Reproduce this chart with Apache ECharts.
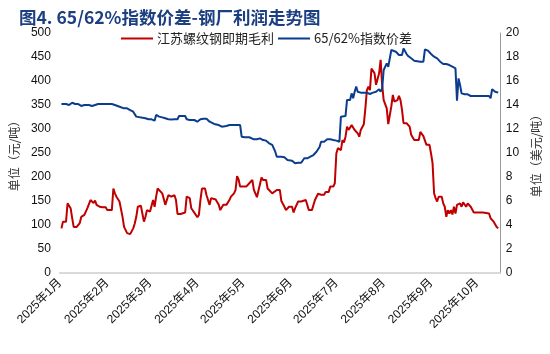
<!DOCTYPE html>
<html>
<head>
<meta charset="utf-8">
<script src="https://cdn.jsdelivr.net/npm/echarts@6/dist/echarts.min.js"></script>
<style>
  html, body { margin: 0; padding: 0; background: #fff; }
  #main { width: 550px; height: 354px; }
</style>
</head>
<body>
<div id="main"></div>
<script>
// 2025 dates (MM-DD) and values
var year = 2025;
var monthStarts = ['01-01','02-01','03-01','04-01','05-01','06-01','07-01','08-01','09-01','10-01'];
var monthLabels = ['2025年1月','2025年2月','2025年3月','2025年4月','2025年5月','2025年6月','2025年7月','2025年8月','2025年9月','2025年10月'];
var leftTicks = [0, 500, 50];
var rightTicks = [0, 20, 2];

// 江苏螺纹钢即期毛利 (元/吨)
var marginDates = ['01-02','01-03','01-05','01-06','01-08','01-09','01-10','01-12','01-14','01-15','01-17','01-19','01-20','01-21','01-22','01-23','01-24','01-25','01-27','01-29','01-31',
  '02-01','02-04','02-05','02-06','02-07','02-08','02-09','02-10','02-11','02-12','02-14','02-16','02-18','02-19','02-20','02-21','02-23','02-24','02-25','02-26','02-27',
  '03-01','03-02','03-03','03-04','03-05','03-06','03-07','03-09','03-11','03-13','03-15','03-17','03-18','03-19','03-21','03-24','03-25','03-27','03-28','03-29','03-31',
  '04-01','04-02','04-03','04-04','04-06','04-07','04-08','04-09','04-10','04-11','04-13','04-15','04-16','04-18','04-20','04-21','04-22','04-23','04-24','04-25','04-26','04-27','04-28','04-29',
  '05-03','05-05','05-07','05-08','05-10','05-11','05-13','05-14','05-16','05-17','05-18','05-20','05-21','05-23','05-25','05-26','05-28','05-29','05-31',
  '06-02','06-03','06-04','06-06','06-08','06-09','06-11','06-13','06-15','06-17','06-19','06-21','06-23','06-24','06-25','06-26','06-27','06-29','06-30',
  '07-01','07-02','07-03','07-04','07-05','07-06','07-07','07-08','07-09','07-11','07-12','07-13','07-15','07-16','07-17','07-19','07-20','07-21','07-22','07-23','07-24','07-25','07-26','07-27','07-28','07-29','07-30','07-31',
  '08-01','08-02','08-03','08-04','08-06','08-07','08-08','08-09','08-10','08-11','08-12','08-13','08-14','08-16','08-18','08-19','08-21','08-24','08-25','08-27','08-29','08-31',
  '09-01','09-02','09-03','09-04','09-05','09-06','09-08','09-09','09-10','09-11','09-12','09-13','09-14','09-15','09-16','09-17','09-18','09-20','09-21','09-22','09-24','09-25','09-27','09-29',
  '10-05','10-09','10-10','10-12','10-13','10-14','10-15'];
var marginValues = [93,107,107,145,135,115,96,96,104,117,121,135,135,152,152,146,151,142,138,137,137,
  131,131,176,166,159,156,149,145,117,96,83,81,93,103,117,138,140,124,107,117,131,
  128,131,152,138,159,176,173,166,142,162,159,162,152,123,123,126,159,156,135,131,121,
  116,121,152,176,176,162,159,142,156,152,153,142,131,142,142,145,152,159,159,166,173,202,195,180,
  180,187,194,173,158,158,199,194,194,176,176,166,166,173,173,150,138,131,138,
  138,126,135,149,149,153,152,131,131,152,165,163,163,169,166,169,180,180,187,
  249,260,263,256,277,272,284,305,298,308,305,298,291,284,298,310,343,381,388,381,426,430,416,392,392,416,444,392,
  360,357,343,310,347,371,357,360,360,369,360,340,312,312,305,288,277,277,294,285,267,267,
  249,229,166,156,149,159,159,145,138,117,131,124,131,122,138,124,142,145,138,147,138,145,138,126,
  126,124,114,107,105,96,93];

// 65/62%指数价差 (美元/吨)
var spreadDates = ['01-02','01-05','01-07','01-09','01-11','01-13','01-15','01-17','01-20','01-22','01-24','01-26',
  '02-01','02-04','02-06','02-07','02-10','02-12','02-14','02-16','02-18','02-19','02-20','02-21','02-26','02-28',
  '03-02','03-04','03-05','03-07','03-09','03-11','03-13','03-15','03-17','03-19','03-20','03-24','03-25','03-27','03-30',
  '04-01','04-03','04-05','04-07','04-09','04-10','04-12','04-15','04-17','04-18','04-20','04-22','04-29','04-30',
  '05-02','05-05','05-08','05-10','05-12','05-14','05-16','05-18','05-20','05-22','05-23','05-26','05-28','05-30',
  '06-02','06-04','06-05','06-06','06-08','06-10','06-12','06-14','06-16','06-18','06-20','06-21','06-23','06-25','06-27','06-29',
  '07-01','07-03','07-04','07-05','07-07','07-08','07-10','07-11','07-12','07-13','07-14','07-15','07-17','07-21','07-23','07-25','07-27','07-29','07-30','07-31',
  '08-01','08-03','08-04','08-06','08-07','08-09','08-11','08-13','08-14','08-16','08-17','08-19','08-20','08-21','08-25','08-27','08-28','08-30',
  '09-01','09-03','09-05','09-07','09-09','09-11','09-13','09-15','09-17','09-18','09-19','09-20','09-21','09-23','09-25','09-27','09-30',
  '10-05','10-09','10-10','10-11','10-13','10-15'];
var spreadValues = [14.08,14.08,14.0,14.19,14.08,14.08,13.92,14.0,14.0,13.92,14.0,14.08,
  14.08,14.08,14.0,13.86,13.81,13.72,13.72,13.58,13.44,13.36,13.03,12.89,12.89,12.81,
  12.81,12.69,13.17,13.03,12.97,12.89,12.81,12.8,12.81,12.81,13.08,13.08,12.81,12.75,12.75,
  12.61,12.81,12.86,12.86,12.61,12.47,12.42,12.33,12.19,12.33,12.25,12.33,12.33,11.36,
  11.31,11.31,11.14,11.14,11.22,11.08,11.03,10.81,10.67,10.11,9.69,9.69,9.64,9.42,
  9.36,9.14,9.0,9.19,9.19,9.56,9.56,9.69,9.83,10.1,10.5,10.94,10.94,11.14,11.14,11.08,
  11.03,10.94,13.03,12.89,13.08,14.42,14.42,14.97,14.56,15.11,15.53,15.11,15.03,15.03,14.92,15.03,15.11,15.31,15.11,15.39,
  16.92,17.47,17.19,18.58,18.72,18.44,18.17,18.17,18.72,18.25,18.08,17.89,17.89,17.69,17.61,17.61,18.64,18.53,
  18.25,18.03,17.89,17.61,17.42,17.42,17.33,17.19,17.06,14.36,16.22,15.67,14.97,14.89,14.89,14.75,14.75,
  14.75,14.75,14.56,15.31,15.11,15.03];

function dayOf(md) {
  var p = md.split('-');
  return (Date.UTC(year, +p[0] - 1, +p[1]) - Date.UTC(year, 0, 1)) / 86400000;
}
function pairs(dates, vals) {
  var out = [];
  for (var i = 0; i < dates.length; i++) out.push([dayOf(dates[i]), vals[i]]);
  return out;
}
var tickDays = monthStarts.map(dayOf);

var font = "'Liberation Sans', 'Noto Sans CJK SC', sans-serif";
var chart = echarts.init(document.getElementById('main'));
var option = {
  animation: false,
  backgroundColor: '#fff',
  title: {
    text: '图4. 65/62%指数价差-钢厂利润走势图',
    left: 14, top: 4,
    textStyle: { color: '#1b3f80', fontSize: 17.5, fontWeight: 'bold', fontFamily: "'Noto Sans CJK SC', sans-serif" }
  },
  legend: {
    left: 116, top: 27,
    itemWidth: 32, itemHeight: 2, itemGap: 4,
    icon: 'rect',
    textStyle: { color: '#222', fontSize: 13, fontFamily: "'Noto Sans CJK SC', sans-serif", padding: [0, 0, 0, -1] },
    data: ['江苏螺纹钢即期毛利', '65/62%指数价差']
  },
  grid: { left: 52, right: 40, top: 33, bottom: 81 },
  xAxis: {
    type: 'value',
    min: 0, max: 288,
    axisLine: { show: true, lineStyle: { color: '#d9d9d9', width: 2 } },
    axisTick: { show: false },
    splitLine: { show: false },
    axisLabel: {
      customValues: tickDays,
      rotate: 45, margin: 8,
      color: '#111', fontSize: 12, fontFamily: font,
      formatter: function (v) {
        var i = tickDays.indexOf(v);
        return i >= 0 ? monthLabels[i] : '';
      }
    }
  },
  yAxis: [
    {
      type: 'value', min: leftTicks[0], max: leftTicks[1], interval: leftTicks[2],
      name: '单位（元/吨）', nameLocation: 'middle', nameRotate: 90, nameGap: 34,
      nameTextStyle: { color: '#333', fontSize: 12, fontFamily: "'Noto Sans CJK SC', sans-serif" },
      axisLine: { show: false }, axisTick: { show: false }, splitLine: { show: false },
      axisLabel: { color: '#111', fontSize: 12, margin: 9, fontFamily: font }
    },
    {
      type: 'value', min: rightTicks[0], max: rightTicks[1], interval: rightTicks[2],
      name: '单位（美元/吨）', nameLocation: 'middle', nameRotate: 90, nameGap: 16,
      nameTextStyle: { color: '#333', fontSize: 12, fontFamily: "'Noto Sans CJK SC', sans-serif" },
      axisLine: { show: true, lineStyle: { color: '#999', width: 1 } },
      axisTick: { show: false }, splitLine: { show: false },
      axisLabel: { color: '#111', fontSize: 12, margin: 6, fontFamily: font }
    }
  ],
  series: [
    {
      name: '江苏螺纹钢即期毛利', type: 'line', yAxisIndex: 0,
      showSymbol: false, symbol: 'none',
      lineStyle: { color: '#c00000', width: 2 }, itemStyle: { color: '#c00000' },
      data: pairs(marginDates, marginValues)
    },
    {
      name: '65/62%指数价差', type: 'line', yAxisIndex: 1,
      showSymbol: false, symbol: 'none',
      lineStyle: { color: '#0b3d8f', width: 2 }, itemStyle: { color: '#0b3d8f' },
      data: pairs(spreadDates, spreadValues)
    }
  ]
};
chart.setOption(option);
</script>
</body>
</html>
